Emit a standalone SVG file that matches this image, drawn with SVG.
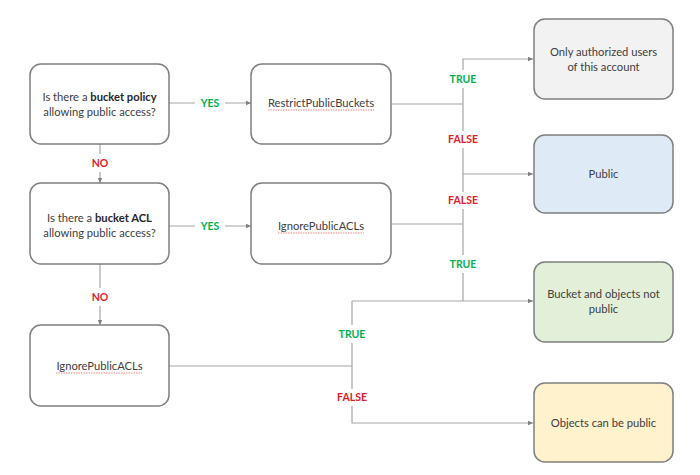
<svg xmlns="http://www.w3.org/2000/svg" width="700" height="475" viewBox="0 0 700 475">
<style>
.box{stroke:#7f7f7f;stroke-width:1.5;}
.t{font-family:Lato,"Liberation Sans",sans-serif;font-size:11.2px;fill:#404040;text-anchor:middle;}
.b{font-weight:bold;fill:#262626;}
.c{fill:none;stroke:#a6a6a6;stroke-width:1.2;}
.lbl{font-family:Lato,"Liberation Sans",sans-serif;font-size:10.5px;font-weight:bold;text-anchor:middle;}
.g{fill:#00b050;}
.r{fill:#e0202a;}
.sq{fill:none;stroke:#ff6060;stroke-width:0.8;stroke-dasharray:1.5 1;}
</style>
<defs>
<marker id="ah" markerWidth="6" markerHeight="6" refX="5" refY="3" orient="auto" markerUnits="userSpaceOnUse">
<path d="M0,0.8 L5,3 L0,5.2 z" fill="#7f7f7f"/>
</marker>
</defs>
<rect width="700" height="475" fill="#ffffff"/>
<g id="connectors">
<path class="c" d="M169,103 H195 M225,103 H251" marker-end="url(#ah)"/>
<path class="c" d="M169,226 H195 M225,226 H251" marker-end="url(#ah)"/>
<path class="c" d="M100,144 V154 M100,172 V183" marker-end="url(#ah)"/>
<path class="c" d="M100,264 V288 M100,306 V325" marker-end="url(#ah)"/>
<path class="c" d="M391,104 H463"/>
<path class="c" d="M391,224 H463"/>
<path class="c" d="M169,366 H352"/>
<path class="c" d="M463,70 V59 H533" marker-end="url(#ah)"/>
<path class="c" d="M463,88 V131 M463,148 V192 M463,209 V255 M463,273 V301"/>
<path class="c" d="M463,174 H533" marker-end="url(#ah)"/>
<path class="c" d="M352,301 H533" marker-end="url(#ah)"/>
<path class="c" d="M352,301 V325 M352,343 V389 M352,406 V423 H533" marker-end="url(#ah)"/>
</g>
<g id="labels">
<text class="lbl g" x="210" y="107">YES</text>
<text class="lbl g" x="210" y="230">YES</text>
<text class="lbl r" x="100" y="167">NO</text>
<text class="lbl r" x="100" y="301">NO</text>
<text class="lbl g" x="463" y="83">TRUE</text>
<text class="lbl r" x="463" y="143">FALSE</text>
<text class="lbl r" x="463" y="204">FALSE</text>
<text class="lbl g" x="463" y="268">TRUE</text>
<text class="lbl g" x="352" y="338">TRUE</text>
<text class="lbl r" x="352" y="401">FALSE</text>
</g>
<g id="q1">
<rect class="box" x="30" y="64" width="139" height="80" rx="11" fill="#ffffff"/>
<text class="t" x="99.5" y="101">Is there a <tspan class="b">bucket policy</tspan></text>
<text class="t" x="99.5" y="116">allowing public access?</text>
</g>
<g id="restrict">
<rect class="box" x="251" y="64" width="140" height="80" rx="11" fill="#ffffff"/>
<text class="t" x="321" y="107">RestrictPublicBuckets</text>
<path class="sq" d="M268,110 H374"/>
</g>
<g id="q2">
<rect class="box" x="30" y="183" width="139" height="81" rx="11" fill="#ffffff"/>
<text class="t" x="99.5" y="222">Is there a <tspan class="b">bucket ACL</tspan></text>
<text class="t" x="99.5" y="237">allowing public access?</text>
</g>
<g id="ignore1">
<rect class="box" x="251" y="183" width="140" height="81" rx="11" fill="#ffffff"/>
<text class="t" x="321" y="230">IgnorePublicACLs</text>
<path class="sq" d="M278,233 H364"/>
</g>
<g id="ignore2">
<rect class="box" x="30" y="325" width="139" height="81" rx="11" fill="#ffffff"/>
<text class="t" x="99.5" y="370">IgnorePublicACLs</text>
<path class="sq" d="M56,373 H142"/>
</g>
<g id="authorized">
<rect class="box" x="534" y="19" width="139" height="80" rx="11" fill="#f2f2f2"/>
<text class="t" x="603.5" y="56">Only authorized users</text>
<text class="t" x="603.5" y="71">of this account</text>
</g>
<g id="public">
<rect class="box" x="534" y="135" width="139" height="78" rx="11" fill="#deebf7"/>
<text class="t" x="603.5" y="178">Public</text>
</g>
<g id="notpublic">
<rect class="box" x="534" y="262" width="139" height="80" rx="11" fill="#e2f0d9"/>
<text class="t" x="603.5" y="298">Bucket and objects not</text>
<text class="t" x="603.5" y="313">public</text>
</g>
<g id="objects">
<rect class="box" x="534" y="383" width="139" height="79" rx="11" fill="#fff2cc"/>
<text class="t" x="603.5" y="427">Objects can be public</text>
</g>
</svg>
